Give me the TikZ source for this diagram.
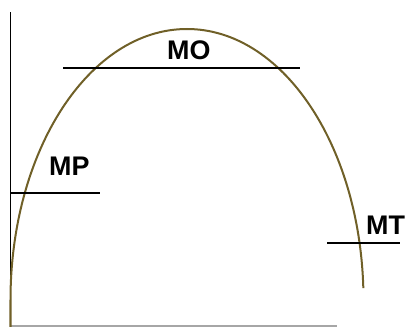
\documentclass[tikz,border=0pt]{standalone}
\usepackage{fontspec}
\setmainfont{Liberation Sans}
\definecolor{archcol}{RGB}{112,96,40}
\begin{document}
\begin{tikzpicture}[x=1bp,y=1bp,
  lbl/.style={font=\fontsize{27}{27}\selectfont\bfseries,inner sep=0pt,anchor=west}]
\useasboundingbox (0,0) rectangle (407,327);
\draw[line width=1.8bp] (10.5,0) -- (10.5,315);
\draw[line width=1.6bp,gray!70] (10,1) -- (337,1);
\draw[line width=2bp,archcol] (10.5,0) -- (10.5,27)
      arc[start angle=180,end angle=2.5,x radius=176.5,y radius=271];
\draw[line width=1.4bp] (63,259) -- (300,259);
\draw[line width=1.4bp] (10,134) -- (100,134);
\draw[line width=1.4bp] (327,84) -- (400,84);
\node[lbl] (mo) at (167,277) {MO};
\node[lbl] (mp) at (49,161) {MP};
\node[lbl] (mt) at (366,102) {MT};
\end{tikzpicture}
\end{document}
